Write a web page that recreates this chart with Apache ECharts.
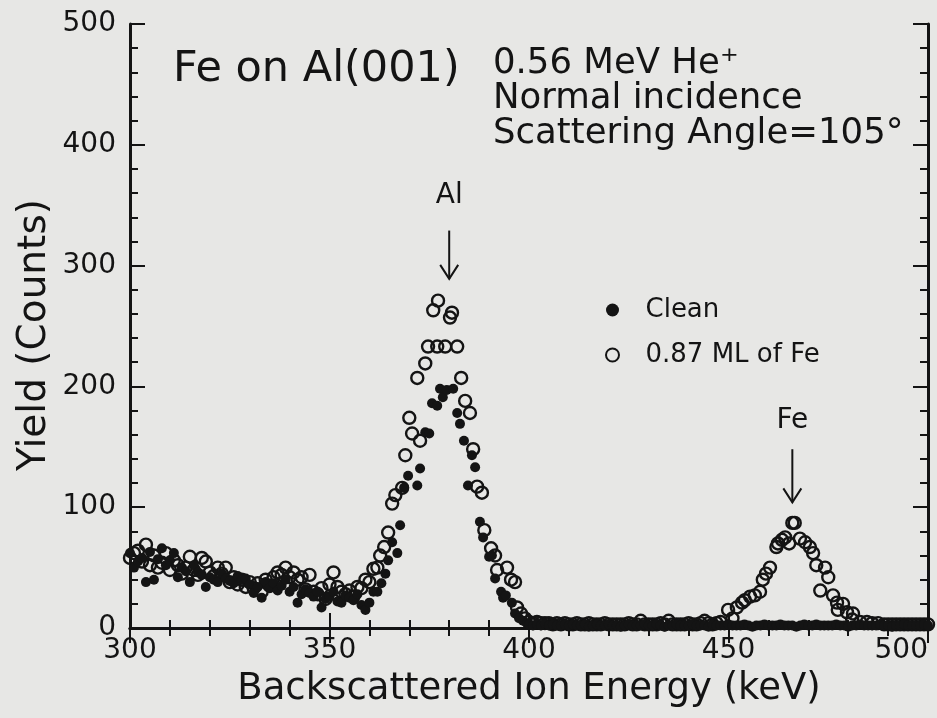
<!DOCTYPE html>
<html>
<head>
<meta charset="utf-8">
<script src="https://cdn.jsdelivr.net/npm/echarts@6/dist/echarts.min.js"></script>
<style>
html,body{margin:0;padding:0;background:#e7e7e5;overflow:hidden;width:937px;height:718px;}
#chart{width:937px;height:718px;}
</style>
</head>
<body>
<div id="chart"></div>
<script>
// ---- data (energy keV, yield counts) ----
var xTicks = [300, 350, 400, 450, 500];
var yTicks = [0, 100, 200, 300, 400, 500];

var cleanBackground = [[300,62],[301,50],[302,55],[303,58],[304,38],[305,63],[306,40],[307,57],[308,66],[309,52],[310,56],[311,62],[312,42],[313,50],[314,47],[315,38],[316,52],[317,46],[318,44],[319,34],[320,42],[321,40],[322,38],[323,45],[324,41],[325,39],[326,37],[327,43],[328,40],[329,41],[330,36],[331,29],[332,34],[333,25],[334,38],[335,33],[336,37],[337,31],[338,35],[339,40],[340,30],[341,34],[342,21],[343,28],[344,32],[345,29],[346,26],[347,30],[348,17],[349,24],[350,26],[351,30],[352,22],[353,21],[354,27],[355,25],[356,23],[357,28],[358,19]];
var cleanAlPeak = [[359,15],[360,21],[361,30],[362,30],[363,37],[364,45],[364.7,56],[365.7,71],[367,62],[367.7,85],[368.7,116],[369.7,126],[372,118],[372.7,132],[374,162],[375,161],[375.7,186],[377,184],[377.7,198],[378.4,191],[379.4,197],[381,198],[382,178],[382.7,169],[383.7,155],[384.7,118],[385.7,143],[386.5,133],[387.7,88],[388.5,75],[390,59],[390.7,60],[391.5,41],[393,30],[393.5,25],[394.2,27],[395.7,21],[396.5,12],[397.5,8],[398.5,6],[399.5,4]];
var cleanHighEnergy = [[400,3],[401,2],[402,3],[403,2],[404,4],[405,2],[406,3],[407,2],[408,2],[409,3],[410,2],[411,3],[412,2],[413,2],[414,3],[415,1],[416,2],[417,3],[418,2],[419,2],[420,3],[421,2],[422,2],[423,1],[424,2],[425,3],[426,2],[427,2],[428,2],[429,3],[430,2],[431,2],[432,3],[433,2],[434,1],[435,2],[436,2],[437,3],[438,2],[439,2],[440,2],[441,3],[442,2],[443,2],[444,2],[445,1],[446,3],[447,2],[448,2],[449,2],[450,3],[451,2],[452,2],[453,2],[454,3],[455,2],[456,1],[457,2],[458,2],[459,3],[460,2],[461,2],[462,2],[463,3],[464,2],[465,2],[466,2],[467,1],[468,2],[469,3],[470,2],[471,2],[472,3],[473,2],[474,2],[475,2],[476,2],[477,3],[478,2],[479,2],[480,1],[481,2],[482,2],[483,3],[484,2],[485,2],[486,2],[487,2],[488,3],[489,2],[490,2],[491,1],[492,2],[493,2],[494,3],[495,2],[496,2],[497,2],[498,2],[499,3],[500,2]];

var feBackground = [[300,58],[301,62],[302,64],[303,55],[304,69],[305,52],[306,60],[307,50],[308,54],[309,62],[310,48],[311,56],[312,52],[313,45],[314,50],[315,59],[316,48],[317,44],[318,58],[319,55],[320,46],[321,43],[322,50],[323,45],[324,50],[325,38],[326,42],[327,36],[328,40],[329,34],[330,38],[331,33],[332,37],[333,30],[334,40],[335,35],[336,42],[337,46],[338,44],[339,50],[340,42],[341,46],[342,40],[343,42],[344,32],[345,44],[346,30],[347,28],[348,33],[349,24],[350,36],[351,46],[352,34],[353,30],[354,28],[355,31],[356,26],[357,34]];
var feAlPeak = [[358,33],[359,40],[360,38],[361,49],[362,50],[362.7,60],[363.7,67],[364.7,79],[365.7,103],[366.5,110],[368.2,116],[369,143],[370,174],[370.7,161],[372,207],[372.7,155],[374,219],[374.7,233],[376,263],[377,233],[377.2,271],[379,233],[380.2,257],[380.7,261],[382,233],[383,207],[384,188],[385.2,178],[386,148],[387,117],[388.2,112],[388.8,81],[390.5,66],[391.5,60],[392,48],[394.5,50],[395.5,40],[396.5,38],[397,17],[398,12],[399,8]];
var feMid = [[400,5],[401,4],[402,5],[403,4],[404,4],[405,4],[406,3],[407,4],[408,3],[409,4],[410,3],[411,3],[412,4],[413,3],[414,3],[415,4],[416,3],[417,3],[418,3],[419,4],[420,3],[421,3],[422,3],[423,3],[424,3],[425,4],[426,3],[427,3],[428,6],[429,3],[430,3],[431,3],[432,3],[433,4],[434,3],[435,6],[436,3],[437,3],[438,3],[439,3],[440,4],[441,3],[442,3],[443,4],[444,6],[445,4],[446,3],[447,4],[448,5]];
var feFePeak = [[449.9,15],[451,8],[452.1,17],[453.4,21],[454.1,23],[455.4,26],[456.6,27],[457.9,30],[458.6,40],[459.4,45],[460.4,50],[462,67],[462.4,70],[463.4,73],[464.2,75],[465.2,70],[466,87],[466.6,87],[467.9,74],[469.2,71],[470.4,67],[471.2,62],[472,52],[473,31],[474.2,50],[475,42],[476.2,27],[477.2,21],[477.4,15],[478.7,20],[479.7,13],[481,7],[481.2,12],[483,5],[484.7,5]];
var feTail = [[486,4],[487.5,4],[489,3],[490,3],[491,3],[492,3],[493,3],[494,3],[495,3],[496,3],[497,3],[498,3],[499,3],[500,3]];

var cleanData = cleanBackground.concat(cleanAlPeak, cleanHighEnergy);
var feData = feBackground.concat(feAlPeak, feMid, feFePeak, feTail);

var FONT = 'DejaVu Sans';
var INK = '#141414';

var chart = echarts.init(document.getElementById('chart'), null, {renderer: 'canvas', width: 937, height: 718});

function axisCommon(show) {
  return {
    axisLine: {show: true, lineStyle: {color: INK, width: 3}},
    axisTick: {show: true, inside: true, length: 15, lineStyle: {color: INK, width: 2}},
    minorTick: {show: true, splitNumber: 5, length: 8, lineStyle: {color: INK, width: 2}},
    splitLine: {show: false},
    axisLabel: {show: show}
  };
}

var option = {
  backgroundColor: '#e7e7e5',
  animation: false,
  grid: {left: 130, right: 9, top: 24, bottom: 90, containLabel: false, outerBoundsMode: 'none'},
  legend: {
    orient: 'vertical',
    left: 600, top: 292,
    itemWidth: 56, itemHeight: 13,
    itemGap: 19,
    data: ['Clean', '0.87 ML of Fe'],
    textStyle: {fontFamily: FONT, fontSize: 26, color: INK}
  },
  xAxis: [
    Object.assign(axisCommon(true), {
      type: 'value', min: 300, max: 500, interval: 50, position: 'bottom',
      axisLabel: {show: true, fontFamily: FONT, fontSize: 28, color: INK, margin: 9,
        alignMaxLabel: 'right',
        formatter: function (v) { return xTicks.indexOf(v) >= 0 ? String(v) : ''; }},
      name: 'Backscattered Ion Energy (keV)', nameLocation: 'middle', nameGap: 43,
      nameTextStyle: {fontFamily: FONT, fontSize: 37, color: INK}
    }),
    Object.assign(axisCommon(false), {
      type: 'value', min: 300, max: 500, interval: 50, position: 'top'
    })
  ],
  yAxis: [
    Object.assign(axisCommon(true), {
      type: 'value', min: 0, max: 500, interval: 100, position: 'left',
      axisLabel: {show: true, fontFamily: FONT, fontSize: 28, color: INK, margin: 14,
        formatter: function (v) { return yTicks.indexOf(v) >= 0 ? String(v) : ''; }}
    }),
    Object.assign(axisCommon(false), {
      type: 'value', min: 0, max: 500, interval: 100, position: 'right'
    })
  ],
  series: [
    {
      name: '0.87 ML of Fe', type: 'scatter', data: feData, symbol: 'circle', symbolSize: 12,
      itemStyle: {color: 'rgba(0,0,0,0)', borderColor: INK, borderWidth: 2.4, opacity: 1}
    },
    {
      name: 'Clean', type: 'scatter', data: cleanData, symbol: 'circle', symbolSize: 10,
      itemStyle: {color: INK, opacity: 1}
    }
  ]
};
chart.setOption(option);

function px(e, y) { return chart.convertToPixel({xAxisIndex: 0, yAxisIndex: 0}, [e, y]); }

function arrow(e, yTop, yTip) {
  var a = px(e, yTop), b = px(e, yTip);
  return [
    {type: 'line', shape: {x1: a[0], y1: a[1], x2: b[0], y2: b[1]}, style: {stroke: INK, lineWidth: 2}},
    {type: 'polyline', shape: {points: [[b[0] - 9, b[1] - 14], [b[0], b[1]], [b[0] + 9, b[1] - 14]]}, style: {stroke: INK, lineWidth: 2, fill: null}}
  ];
}

var alLbl = px(380, 358), feLbl = px(466, 172);
var graphics = [
  {type: 'text', left: 173, top: 48, style: {text: 'Fe on Al(001)', font: '43px "DejaVu Sans"', fill: INK}},
  {type: 'text', left: 493, top: 46, style: {text: '0.56 MeV He\u207A', font: '35.5px "DejaVu Sans"', fill: INK}},
  {type: 'text', left: 493, top: 81, style: {text: 'Normal incidence', font: '35.5px "DejaVu Sans"', fill: INK}},
  {type: 'text', left: 493, top: 116, style: {text: 'Scattering Angle=105\u00B0', font: '35.5px "DejaVu Sans"', fill: INK}},
  {type: 'text', x: 35, y: 335, rotation: Math.PI / 2, style: {text: 'Yield (Counts)', font: '39px "DejaVu Sans"', fill: INK, textAlign: 'center', textVerticalAlign: 'middle'}},
  {type: 'text', x: alLbl[0], y: alLbl[1], style: {text: 'Al', font: '28px "DejaVu Sans"', fill: INK, textAlign: 'center', textVerticalAlign: 'middle'}},
  {type: 'text', x: feLbl[0], y: feLbl[1], style: {text: 'Fe', font: '28px "DejaVu Sans"', fill: INK, textAlign: 'center', textVerticalAlign: 'middle'}}
].concat(arrow(380, 329, 289), arrow(466, 148, 104));

chart.setOption({graphic: graphics});
</script>
</body>
</html>
